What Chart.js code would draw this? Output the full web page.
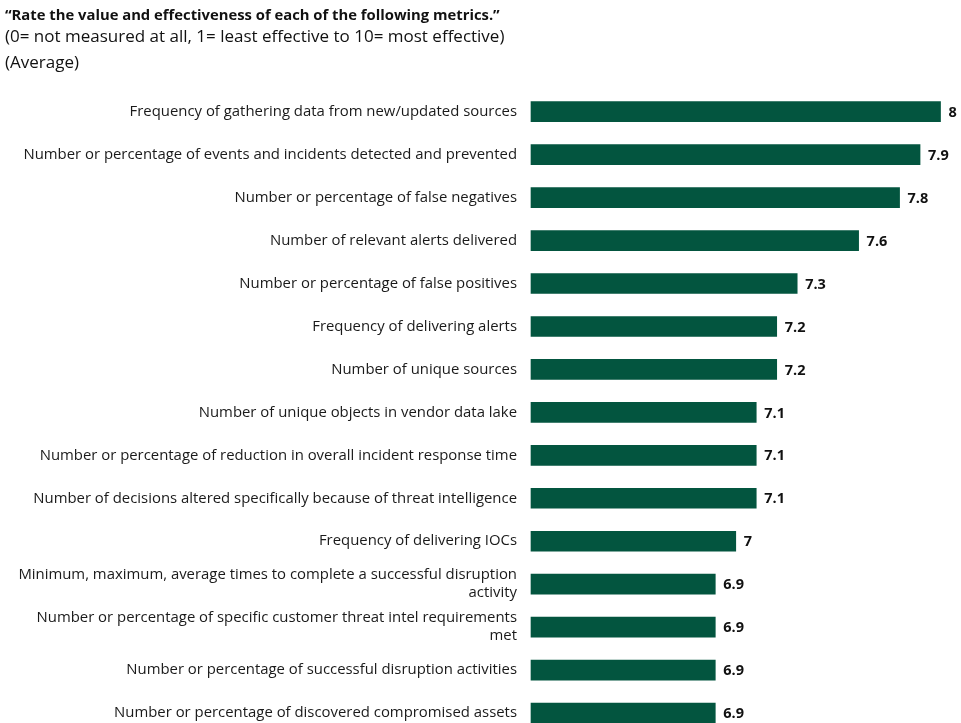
<!DOCTYPE html>
<html>
<head>
<meta charset="utf-8">
<script src="https://cdn.jsdelivr.net/npm/chart.js@4/dist/chart.umd.min.js"></script>
<style>
  html, body { margin: 0; padding: 0; background: #ffffff; }
  #wrap { position: relative; width: 961px; height: 723px; overflow: hidden; }
  #chart { position: absolute; left: 0; top: 0; }
  .t { position: absolute; left: 5px; white-space: nowrap; color: #111; font-family: "Open Sans", sans-serif; }
  #title { top: 4px; font-size: 14.8px; font-weight: 700; }
  #sub1 { top: 24px; font-size: 17px; }
  #sub2 { top: 50px; font-size: 17px; }
</style>
</head>
<body>
<div id="wrap">
  <canvas id="chart" width="961" height="736"></canvas>
  <div class="t" id="title">“Rate the value and effectiveness of each of the following metrics.”</div>
  <div class="t" id="sub1">(0= not measured at all, 1= least effective to 10= most effective)</div>
  <div class="t" id="sub2">(Average)</div>
</div>
<script>
const categories = [
  "Frequency of gathering data from new/updated sources",
  "Number or percentage of events and incidents detected and prevented",
  "Number or percentage of false negatives",
  "Number of relevant alerts delivered",
  "Number or percentage of false positives",
  "Frequency of delivering alerts",
  "Number of unique sources",
  "Number of unique objects in vendor data lake",
  "Number or percentage of reduction in overall incident response time",
  "Number of decisions altered specifically because of threat intelligence",
  "Frequency of delivering IOCs",
  ["Minimum, maximum, average times to complete a successful disruption", "activity"],
  ["Number or percentage of specific customer threat intel requirements", "met"],
  "Number or percentage of successful disruption activities",
  "Number or percentage of discovered compromised assets"
];
const averages = [8, 7.9, 7.8, 7.6, 7.3, 7.2, 7.2, 7.1, 7.1, 7.1, 7, 6.9, 6.9, 6.9, 6.9];
const valueLabels = ["8", "7.9", "7.8", "7.6", "7.3", "7.2", "7.2", "7.1", "7.1", "7.1", "7", "6.9", "6.9", "6.9", "6.9"];

const PAD_LEFT = 0;
const AXIS_X = 531;

const valueLabelPlugin = {
  id: 'valueLabels',
  afterDatasetsDraw(chart) {
    const ctx = chart.ctx;
    const meta = chart.getDatasetMeta(0);
    ctx.save();
    ctx.font = '700 14.5px "Open Sans", sans-serif';
    ctx.fillStyle = '#111';
    ctx.textAlign = 'left';
    ctx.textBaseline = 'middle';
    meta.data.forEach((bar, i) => {
      ctx.fillText(valueLabels[i], bar.x + 8, bar.y + 1);
    });
    ctx.restore();
  }
};

new Chart(document.getElementById('chart'), {
  type: 'bar',
  data: {
    labels: categories,
    datasets: [{
      data: averages,
      base: 6,
      backgroundColor: '#03553F',
      borderWidth: 0,
      barThickness: 20,
      clip: false
    }]
  },
  options: {
    indexAxis: 'y',
    responsive: false,
    animation: false,
    layout: { padding: { left: PAD_LEFT, right: 0, top: 111.7, bottom: 0 } },
    plugins: { legend: { display: false }, tooltip: { enabled: false }, title: { display: false } },
    scales: {
      x: {
        type: 'linear', min: 6, max: 8.1, display: false,
        grid: { display: false }
      },
      y: {
        offset: false,
        grid: { display: false, drawTicks: false },
        border: { display: false },
        ticks: {
          padding: 14,
          color: '#1a1a1a',
          font: { family: '"Open Sans", sans-serif', size: 14.9, lineHeight: 1.2 },
          autoSkip: false
        },
        afterFit(scale) { scale.width = AXIS_X - PAD_LEFT; }
      }
    }
  },
  plugins: [valueLabelPlugin]
});
</script>
</body>
</html>
